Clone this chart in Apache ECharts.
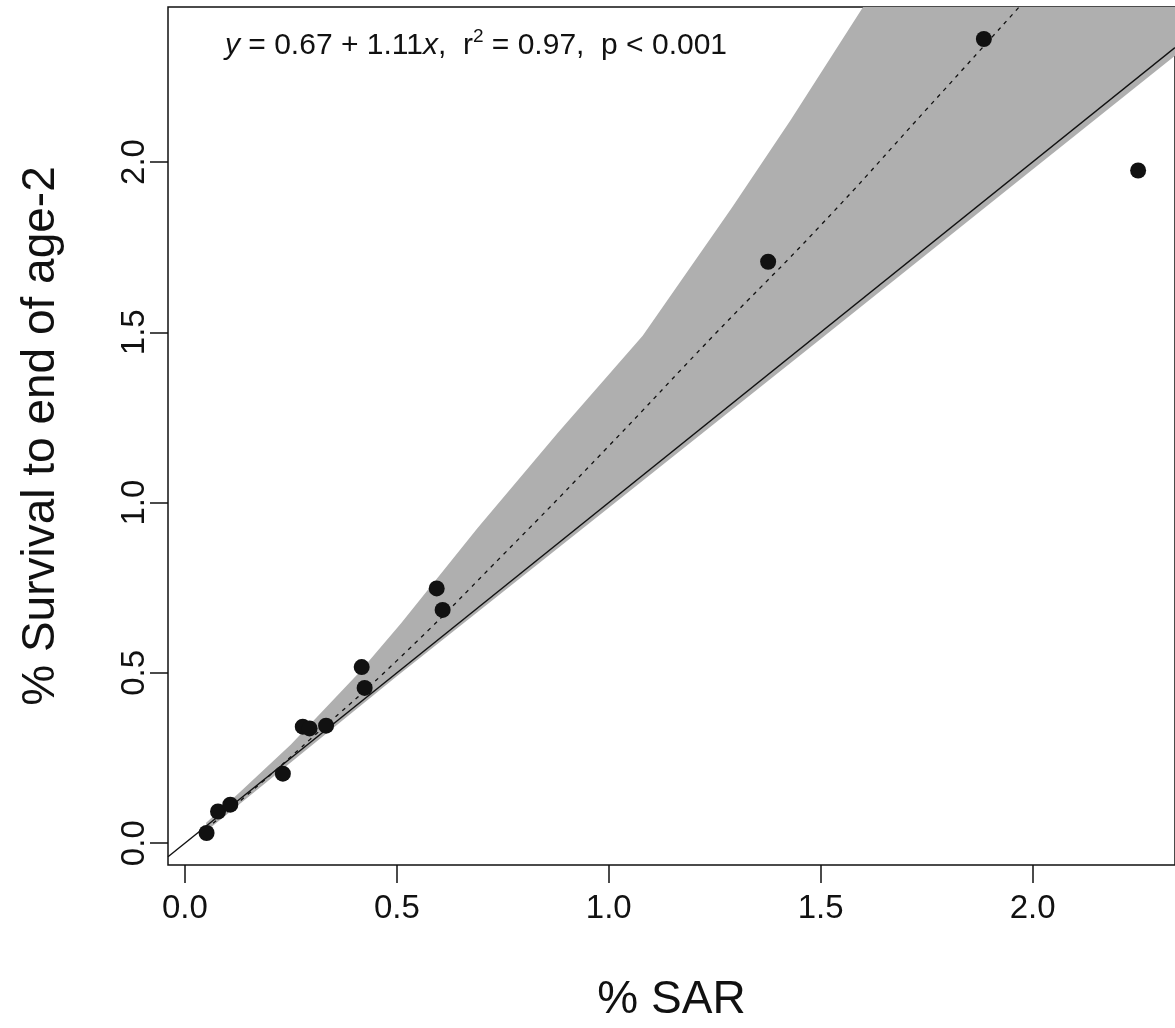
<!DOCTYPE html>
<html><head><meta charset="utf-8">
<script src="https://cdn.jsdelivr.net/npm/echarts@6/dist/echarts.min.js"></script>
<style>html,body{margin:0;padding:0;background:#fff}#c{width:1175px;height:1028px}</style>
</head><body><div id="c"></div>
<script>
// observed points (% SAR vs % survival to end of age-2)
const sarX  = [0.051,0.078,0.107,0.231,0.278,0.294,0.333,0.417,0.424,0.594,0.608,1.376,1.885,2.249];
const survY = [0.030,0.093,0.113,0.204,0.342,0.337,0.345,0.517,0.456,0.748,0.685,1.707,2.361,1.975];
// fitted curve (dashed)
const fitX = [0.05,0.15,0.30,0.50,0.75,1.00,1.25,1.50,1.75,1.969];
const fitY = [0.042,0.145,0.31,0.536,0.846,1.166,1.494,1.814,2.155,2.456];
// confidence band edges
const bandUpX = [0.05,0.13,0.25,0.41,0.51,0.69,0.88,1.08,1.29,1.43,1.60];
const bandUpY = [0.06,0.15,0.29,0.50,0.646,0.925,1.205,1.49,1.865,2.125,2.455];
const bandLoX = [0.05,0.50,1.00,1.50,2.00,2.336];
const bandLoY = [0.035,0.49,0.985,1.48,1.978,2.312];
// 1:1 line
const oneX = [-0.04,2.336];
const oneY = [-0.04,2.336];
// axes
const xMin = -0.04, xMax = 2.336, yMin = -0.064, yMax = 2.455;
const xTicks = [0,0.5,1,1.5,2];
const yTicks = [0,0.5,1,1.5,2];

const zip = (a,b) => a.map((v,i)=>[v,b[i]]);
const FONT = '"Liberation Sans", Arial, sans-serif';

const chart = echarts.init(document.getElementById('c'));
chart.setOption({
  animation:false,
  backgroundColor:'#fff',
  grid:{left:168, top:7, right:-3, bottom:158, show:true, borderColor:'#111', borderWidth:1.5, backgroundColor:'transparent'},
  xAxis:{
    type:'value', min:xMin, max:xMax,
    name:'% SAR', nameLocation:'middle', nameGap:112,
    nameTextStyle:{fontFamily:FONT, fontSize:46, color:'#111'},
    axisLine:{show:false, onZero:false},
    splitLine:{show:false},
    axisTick:{show:true, length:18, lineStyle:{color:'#111', width:1.5}, customValues:xTicks},
    axisLabel:{fontFamily:FONT, fontSize:33, color:'#111', margin:27, customValues:xTicks,
      formatter:v=>v.toFixed(1)}
  },
  yAxis:{
    type:'value', min:yMin, max:yMax,
    name:'% Survival to end of age-2', nameLocation:'middle', nameGap:104, nameRotate:90,
    nameTextStyle:{fontFamily:FONT, fontSize:46, color:'#111'},
    axisLine:{show:false, onZero:false},
    splitLine:{show:false},
    axisTick:{show:true, length:18, lineStyle:{color:'#111', width:1.5}, customValues:yTicks},
    axisLabel:{fontFamily:FONT, fontSize:33, color:'#111', margin:17, rotate:90, customValues:yTicks,
      formatter:v=>v.toFixed(1)}
  },
  graphic:[{
    type:'text', left:225, top:27, z:100,
    style:{
      text:'{i|y} = 0.67 + 1.11{i|x},  r{s|2} = 0.97,  p < 0.001',
      font:'30px ' + FONT, fill:'#111',
      rich:{
        i:{fontStyle:'italic', fontSize:30, fontFamily:FONT, color:'#111'},
        s:{fontSize:19, fontFamily:FONT, color:'#111', padding:[0,0,18,0]}
      }
    }
  }],
  series:[
    {
      type:'custom', z:1, silent:true,
      data:[0],
      renderItem:(params, api) => {
        const pts = [];
        bandUpX.forEach((x,i)=>pts.push(api.coord([x, bandUpY[i]])));
        pts.push(api.coord([xMax, yMax]));
        for (let i=bandLoX.length-1;i>=0;i--) pts.push(api.coord([bandLoX[i], bandLoY[i]]));
        return {type:'polygon', shape:{points:pts}, style:{fill:'#afafaf', stroke:null}};
      }
    },
    {
      type:'line', z:3, data:zip(oneX, oneY), showSymbol:false, silent:true,
      lineStyle:{color:'#111', width:1.4}
    },
    {
      type:'line', z:4, data:zip(fitX, fitY), showSymbol:false, smooth:true, silent:true,
      lineStyle:{color:'#111', width:1.3, type:[4,5]}
    },
    {
      type:'scatter', z:5, data:zip(sarX, survY), symbol:'circle', symbolSize:16,
      itemStyle:{color:'#111', opacity:1}
    }
  ]
});
</script>
</body></html>
